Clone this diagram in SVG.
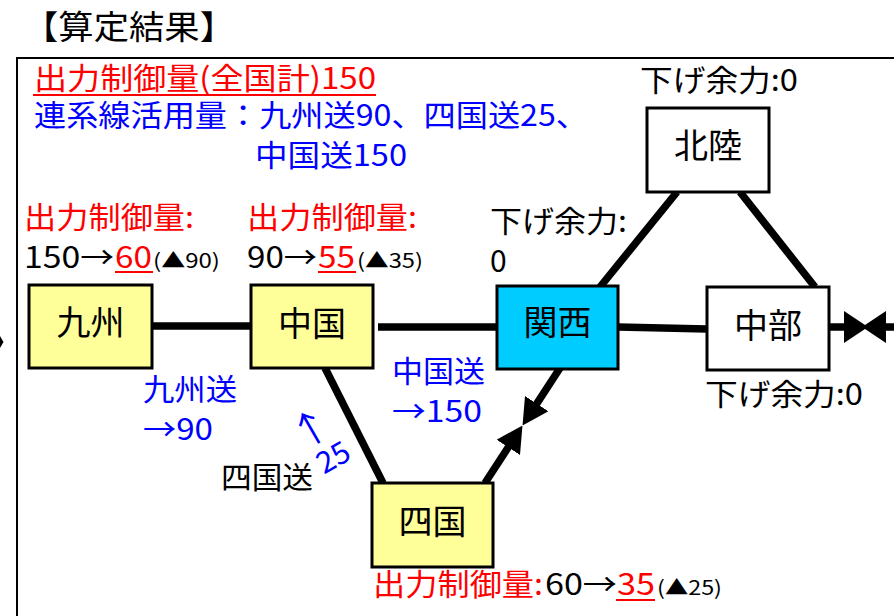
<svg xmlns="http://www.w3.org/2000/svg" width="894" height="616" viewBox="0 0 894 616">
<style>
text{font-family:"Noto Sans CJK JP","Noto Sans",sans-serif;font-size:30px;fill:#000}
.red{fill:#FF0000}
.blue{fill:#0000FF}
.ul{stroke:#FF0000;stroke-width:2}
.sm{font-size:20px}
.lbl{font-size:34px;text-anchor:middle}
.box{stroke:#000;stroke-width:3}
.yel{fill:#FFFF99}
.wht{fill:#FFFFFF}
.cyan{fill:#00CCFF}
.conn{stroke:#000;stroke-width:7.5;fill:none}
</style>
<defs>
<marker id="ah" markerUnits="userSpaceOnUse" viewBox="0 0 26 28" markerWidth="26" markerHeight="28" refX="16" refY="14" orient="auto">
<path d="M0,0 L26,14 L0,28 z" fill="#000"/>
</marker>
<marker id="ah2" markerUnits="userSpaceOnUse" viewBox="0 0 24 32" markerWidth="24" markerHeight="32" refX="14" refY="16" orient="auto">
<path d="M0,0 L24,16 L0,32 z" fill="#000"/>
</marker>
</defs>
<rect width="894" height="616" fill="#FFFFFF"/>
<text x="23" y="39" style="font-size:33px" textLength="212" lengthAdjust="spacingAndGlyphs">【算定結果】</text>
<rect x="17" y="58" width="900" height="600" fill="none" stroke="#000" stroke-width="2"/>

<g id="summary">
<text x="34" y="89" class="red" textLength="342" lengthAdjust="spacingAndGlyphs">出力制御量(全国計)150</text>
<line class="ul" x1="33" y1="95" x2="376" y2="95"/>
<text x="34" y="126" class="blue" textLength="554" lengthAdjust="spacingAndGlyphs">連系線活用量：九州送90、四国送25、</text>
<text x="255" y="166" class="blue" textLength="152" lengthAdjust="spacingAndGlyphs">中国送150</text>
</g>

<g id="connectors">
<line class="conn" x1="152" y1="326" x2="251" y2="326"/>
<line class="conn" x1="378" y1="327" x2="497" y2="327"/>
<line class="conn" x1="618" y1="327" x2="707" y2="329"/>
<line class="conn" x1="600" y1="287" x2="677" y2="192"/>
<line class="conn" x1="740" y1="192" x2="815" y2="287"/>
<line class="conn" x1="325" y1="368" x2="383" y2="483"/>
<line class="conn" x1="485" y1="483" x2="517" y2="433.9" marker-end="url(#ah)"/>
<line class="conn" x1="560" y1="368" x2="528" y2="417.1" marker-end="url(#ah)"/>
<line class="conn" x1="829" y1="327" x2="858" y2="327" marker-end="url(#ah2)"/>
<line class="conn" x1="920" y1="327" x2="872" y2="327" marker-end="url(#ah2)"/>
<polygon points="0,336 3.5,342 0,348" fill="#000"/>
</g>

<g id="kyushu">
<rect class="box yel" x="29" y="285" width="123" height="83"/>
<text class="lbl" x="90.5" y="335">九州</text>
<text x="24" y="228" class="red" textLength="170" lengthAdjust="spacingAndGlyphs">出力制御量:</text>
<text x="24" y="268" textLength="90" lengthAdjust="spacingAndGlyphs">150→</text>
<text x="115" y="268" class="red" textLength="37" lengthAdjust="spacingAndGlyphs">60</text>
<line class="ul" x1="115" y1="272" x2="153" y2="272"/>
<text x="153" y="268" class="sm" textLength="67" lengthAdjust="spacingAndGlyphs">(▲90)</text>
</g>

<g id="chugoku">
<rect class="box yel" x="251" y="285" width="122" height="83"/>
<text class="lbl" x="312" y="336">中国</text>
<text x="247" y="228" class="red" textLength="170" lengthAdjust="spacingAndGlyphs">出力制御量:</text>
<text x="247" y="268" textLength="70" lengthAdjust="spacingAndGlyphs">90→</text>
<text x="318" y="268" class="red" textLength="37" lengthAdjust="spacingAndGlyphs">55</text>
<line class="ul" x1="318" y1="272" x2="356" y2="272"/>
<text x="357" y="268" class="sm" textLength="66" lengthAdjust="spacingAndGlyphs">(▲35)</text>
</g>

<g id="kansai">
<rect class="box cyan" x="497" y="286" width="121" height="83"/>
<text class="lbl" x="557.5" y="335">関西</text>
<text x="490" y="232" textLength="137" lengthAdjust="spacingAndGlyphs">下げ余力:</text>
<text x="490" y="272">0</text>
</g>

<g id="hokuriku">
<rect class="box wht" x="647" y="108" width="122" height="84" stroke-width="2.5"/>
<text class="lbl" x="708" y="158">北陸</text>
<text x="640" y="91" textLength="158" lengthAdjust="spacingAndGlyphs">下げ余力:0</text>
</g>

<g id="chubu">
<rect class="box wht" x="707" y="287" width="122" height="83" stroke-width="2.5"/>
<text class="lbl" x="768" y="338">中部</text>
<text x="705" y="405" textLength="158" lengthAdjust="spacingAndGlyphs">下げ余力:0</text>
</g>

<g id="shikoku">
<rect class="box yel" x="372" y="483" width="121" height="84"/>
<text class="lbl" x="432.5" y="534">四国</text>
<text x="373" y="595" class="red" textLength="170" lengthAdjust="spacingAndGlyphs">出力制御量:</text>
<text x="545" y="595" textLength="72" lengthAdjust="spacingAndGlyphs">60→</text>
<text x="617" y="595" class="red" textLength="38" lengthAdjust="spacingAndGlyphs">35</text>
<line class="ul" x1="616" y1="600" x2="655" y2="600"/>
<text x="657" y="595" class="sm" textLength="65" lengthAdjust="spacingAndGlyphs">(▲25)</text>
</g>

<g id="flow-labels">
<text x="143" y="400" class="blue" textLength="94" lengthAdjust="spacingAndGlyphs">九州送</text>
<text x="143" y="440" class="blue" textLength="70" lengthAdjust="spacingAndGlyphs">→90</text>
<text x="392" y="382" class="blue" textLength="93" lengthAdjust="spacingAndGlyphs">中国送</text>
<text x="392" y="422" class="blue" textLength="90" lengthAdjust="spacingAndGlyphs">→150</text>
<text x="221" y="488" textLength="92" lengthAdjust="spacingAndGlyphs">四国送</text>
<g transform="translate(333,457) rotate(-30)">
<text x="-5" y="-22" class="blue" text-anchor="middle" style="font-size:38px">↑</text>
<text x="0" y="11" class="blue" text-anchor="middle">25</text>
</g>
</g>
</svg>
